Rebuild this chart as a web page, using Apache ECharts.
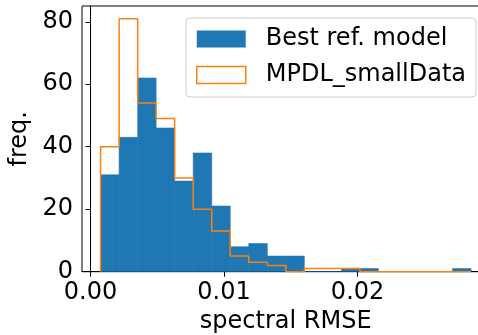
<!DOCTYPE html>
<html>
<head>
<meta charset="utf-8">
<script src="https://cdn.jsdelivr.net/npm/echarts@6/dist/echarts.min.js"></script>
<style>
  html, body { margin: 0; padding: 0; background: #fff; }
  #chart { width: 478px; height: 335px; }
</style>
</head>
<body>
<div id="chart"></div>
<script>
// Shared histogram bin edges (spectral RMSE)
const binEdges = [0.00075, 0.00214, 0.00353, 0.00491, 0.00630, 0.00769, 0.00908,
  0.01046, 0.01185, 0.01324, 0.01463, 0.01601, 0.01740, 0.01879, 0.02018,
  0.02156, 0.02295, 0.02434, 0.02573, 0.02711, 0.02850];
// Counts per bin
const bestRefCounts = [31, 43, 62, 46, 29, 38, 21, 8, 9, 5, 5, 0, 0, 1, 1, 0, 0, 0, 0, 1];
const mpdlCounts = [40, 81, 54, 49, 30, 20, 13, 5, 3, 2, 0, 1, 1, 1, 0, 0, 0, 0, 0, 0];
const seriesNames = ['Best ref. model', 'MPDL_smallData'];
const xTicks = [0, 0.01, 0.02];
const yTicks = [0, 20, 40, 60, 80];

const FONT = 'DejaVu Sans';
const BLUE = '#1f77b4';
const ORANGE = '#ff7f0e';

// Filled bars: [left edge, right edge, count]
const barData = bestRefCounts.map((c, i) => [binEdges[i], binEdges[i + 1], c]);

// Step outline: up from baseline, across each bin top, back down at the end
const stepData = [[binEdges[0], 0]];
mpdlCounts.forEach((c, i) => {
  stepData.push([binEdges[i], c]);
  stepData.push([binEdges[i + 1], c]);
});
stepData.push([binEdges[binEdges.length - 1], 0]);

const chart = echarts.init(document.getElementById('chart'), null, { renderer: 'canvas' });

chart.setOption({
  animation: false,
  backgroundColor: '#fff',
  textStyle: { fontFamily: FONT },
  grid: {
    left: 82, top: 6, width: 407.5, height: 265.7,
    outerBoundsMode: 'none',
    containLabel: false,
    show: true, borderColor: '#000', borderWidth: 1, backgroundColor: 'transparent'
  },
  legend: {
    orient: 'vertical',
    left: 186, top: 18,
    padding: [9, 10, 10, 10],
    itemWidth: 49, itemHeight: 17, itemGap: 12,
    borderColor: '#cccccc', borderWidth: 1, borderRadius: 4,
    backgroundColor: 'rgba(255,255,255,0.8)',
    textStyle: { fontFamily: FONT, fontSize: 24, color: '#000', lineHeight: 24, padding: [0, 0, 0, 15] },
    data: [
      { name: seriesNames[0], icon: 'rect', itemStyle: { color: BLUE, borderWidth: 0 } },
      { name: seriesNames[1], icon: 'rect', itemStyle: { color: '#fff', borderColor: ORANGE, borderWidth: 1.5 } }
    ]
  },
  xAxis: {
    type: 'value',
    min: -0.00064, max: 0.02988,
    name: 'spectral RMSE',
    nameLocation: 'middle',
    nameGap: 36,
    nameTextStyle: { fontFamily: FONT, fontSize: 24, color: '#000' },
    axisLine: { show: true, lineStyle: { color: '#000', width: 1 } },
    axisTick: { show: true, inside: false, length: 5, customValues: xTicks, lineStyle: { color: '#000', width: 1 } },
    axisLabel: {
      customValues: xTicks, margin: 9,
      fontFamily: FONT, fontSize: 24, color: '#000',
      formatter: v => v.toFixed(2)
    },
    splitLine: { show: false }
  },
  yAxis: {
    type: 'value',
    min: 0, max: 85.05,
    name: 'freq.',
    nameLocation: 'middle',
    nameGap: 47,
    nameTextStyle: { fontFamily: FONT, fontSize: 24, color: '#000' },
    axisLine: { show: true, lineStyle: { color: '#000', width: 1 } },
    axisTick: { show: true, inside: false, length: 5, customValues: yTicks, lineStyle: { color: '#000', width: 1 } },
    axisLabel: {
      customValues: yTicks, margin: 9,
      fontFamily: FONT, fontSize: 24, color: '#000'
    },
    splitLine: { show: false }
  },
  series: [
    {
      name: seriesNames[0],
      type: 'custom',
      clip: true,
      itemStyle: { color: BLUE },
      encode: { x: [0, 1], y: 2 },
      data: barData,
      renderItem: function (params, api) {
        const p0 = api.coord([api.value(0), api.value(2)]);
        const p1 = api.coord([api.value(1), 0]);
        return {
          type: 'rect',
          shape: { x: p0[0], y: p0[1], width: p1[0] - p0[0], height: p1[1] - p0[1] },
          style: { fill: BLUE, stroke: BLUE, lineWidth: 0.6 }
        };
      },
      z: 2
    },
    {
      name: seriesNames[1],
      type: 'line',
      data: stepData,
      showSymbol: false,
      symbol: 'none',
      itemStyle: { color: ORANGE },
      lineStyle: { color: ORANGE, width: 1.5 },
      z: 3
    }
  ]
});
</script>
</body>
</html>
